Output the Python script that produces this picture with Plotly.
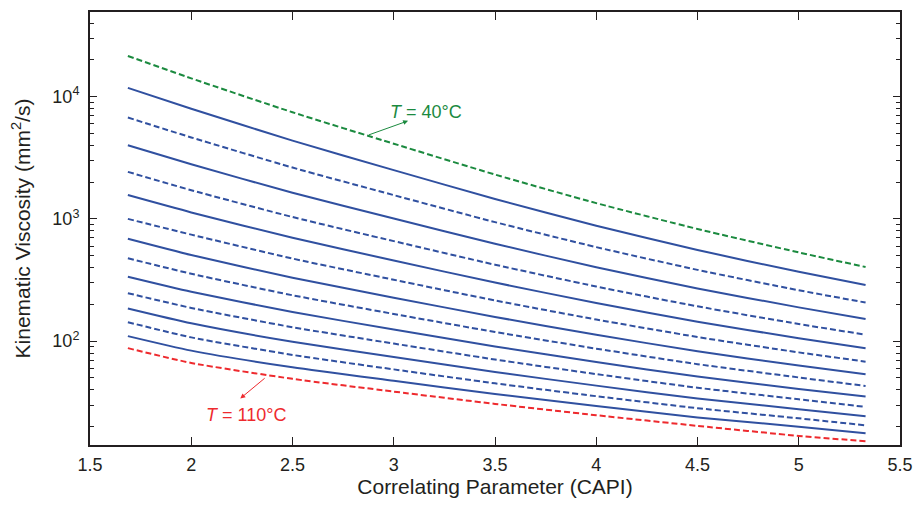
import plotly.graph_objects as go

# CAPI sample positions (x)
capi = [1.687, 2.0, 2.5, 3.0, 3.5, 4.0, 4.5, 5.0, 5.33]

# Temperatures (°C) of each curve
temps = [40, 45, 50, 55, 60, 65, 70, 75, 80, 85, 90, 95, 100, 105, 110]

# Kinematic viscosity (mm²/s) per temperature, read at the CAPI positions above
visc_40 = [21500, 14100, 7450, 4120, 2305, 1346, 827, 532, 404]
visc_45 = [11800, 7960, 4367, 2507, 1455, 880, 557, 369, 288]
visc_50 = [6740, 4638, 2629, 1565, 941, 588, 383, 261, 207]
visc_55 = [4000, 2795, 1636, 1006, 626, 403, 270, 189, 152]
visc_60 = [2425, 1717, 1036, 658, 422, 280, 192.7, 138.2, 113]
visc_65 = [1566, 1130, 701, 457, 301.5, 205.3, 144.3, 105.8, 87.7]
visc_70 = [1000, 744, 474, 318, 215.3, 150.4, 108.1, 81.0, 68]
visc_75 = [687, 506, 330, 227, 157.8, 112.8, 82.8, 63.2, 53.6]
visc_80 = [477, 356, 237.5, 167, 118.9, 86.9, 64.9, 50.5, 43]
visc_85 = [337, 254, 173, 124.7, 90.6, 67.5, 51.4, 40.7, 35.3]
visc_90 = [247, 187, 130, 95.6, 70.8, 53.8, 41.6, 33.5, 29]
visc_95 = [185, 140, 98.9, 74.1, 56.0, 43.3, 34.0, 27.8, 24.3]
visc_100 = [143, 107.4, 77.2, 58.8, 45.2, 35.5, 28.3, 23.4, 20.5]
visc_105 = [110, 83.7, 61.1, 47.4, 37.0, 29.5, 23.8, 20.0, 17.7]
visc_110 = [87.7, 66.4, 49.2, 38.7, 30.7, 24.8, 20.3, 16.8, 15.2]

series = [visc_40, visc_45, visc_50, visc_55, visc_60, visc_65, visc_70, visc_75,
          visc_80, visc_85, visc_90, visc_95, visc_100, visc_105, visc_110]

x_ticks = [1.5, 2, 2.5, 3, 3.5, 4, 4.5, 5, 5.5]
x_ticktext = ["1.5", "2", "2.5", "3", "3.5", "4", "4.5", "5", "5.5"]
y_ticks = [100, 1000, 10000]
y_ticktext = ["10<sup>2</sup>", "10<sup>3</sup>", "10<sup>4</sup>"]
y_minor_ticks = [m * d for d in (10, 100, 1000, 10000) for m in range(2, 10) if 14 <= m * d <= 49000]

GREEN = "#1B8A3F"
BLUE = "#3050A0"
RED = "#EE2A2E"
FONT = "Liberation Sans, Arial, sans-serif"
TXT = "#231F20"

fig = go.Figure()
for i, (t, v) in enumerate(zip(temps, series)):
    if i == 0:
        color, dash = GREEN, "6px,3px"
    elif i == len(temps) - 1:
        color, dash = RED, "6px,3px"
    else:
        color = BLUE
        dash = "6px,3px" if i % 2 == 0 else "solid"
    fig.add_trace(go.Scatter(
        x=capi, y=v, mode="lines", name=f"T = {t}°C",
        line=dict(color=color, width=2, dash=dash, shape="spline", smoothing=0.6),
        showlegend=False, hoverinfo="skip"))

# Annotations: text + arrows (arrowhead near text, tail on curve)
fig.add_annotation(x=3.161, y=3.878, xref="x", yref="y", text="<i>T</i> = 40°C",
                   showarrow=False, font=dict(color=GREEN, size=18, family=FONT))
fig.add_annotation(x=3.071, y=3.802, ax=2.870, ay=3.683, xref="x", yref="y",
                   axref="x", ayref="y", text="", showarrow=True, arrowhead=2,
                   arrowsize=1, arrowwidth=1, arrowcolor=GREEN)
fig.add_annotation(x=2.270, y=1.395, xref="x", yref="y", text="<i>T</i> = 110°C",
                   showarrow=False, font=dict(color=RED, size=18, family=FONT))
fig.add_annotation(x=2.242, y=1.531, ax=2.370, ay=1.707, xref="x", yref="y",
                   axref="x", ayref="y", text="", showarrow=True, arrowhead=2,
                   arrowsize=1, arrowwidth=1, arrowcolor=RED)

# page body has an 8px margin, so the figure is sized to fit the 922x505 window
fig.update_layout(
    width=914, height=497,
    margin=dict(l=82, r=22, t=2, b=60),
    paper_bgcolor="white", plot_bgcolor="white",
    font=dict(family=FONT, size=18, color=TXT),
)
fig.update_xaxes(
    range=[1.5, 5.5], tickvals=x_ticks, ticktext=x_ticktext,
    ticks="inside", ticklen=8, tickwidth=1.2, tickcolor=TXT,
    showline=True, linewidth=2, linecolor=TXT, mirror="allticks",
    showgrid=False, zeroline=False, ticklabelstandoff=2,
    title=dict(text="Correlating Parameter (CAPI)", font=dict(size=21), standoff=6),
)
fig.update_yaxes(
    type="log", range=[1.151, 4.692], tickvals=y_ticks, ticktext=y_ticktext,
    ticks="inside", ticklen=7, tickwidth=1.2, tickcolor=TXT,
    minor=dict(tickmode="array", tickvals=y_minor_ticks, ticks="inside", ticklen=4,
               tickwidth=1, tickcolor=TXT, showgrid=False),
    showline=True, linewidth=2, linecolor=TXT, mirror="allticks",
    showgrid=False, zeroline=False, ticklabelstandoff=5,
    title=dict(text="Kinematic Viscosity (mm<sup>2</sup>/s)", font=dict(size=21), standoff=18),
)

fig.write_html("out.html")
